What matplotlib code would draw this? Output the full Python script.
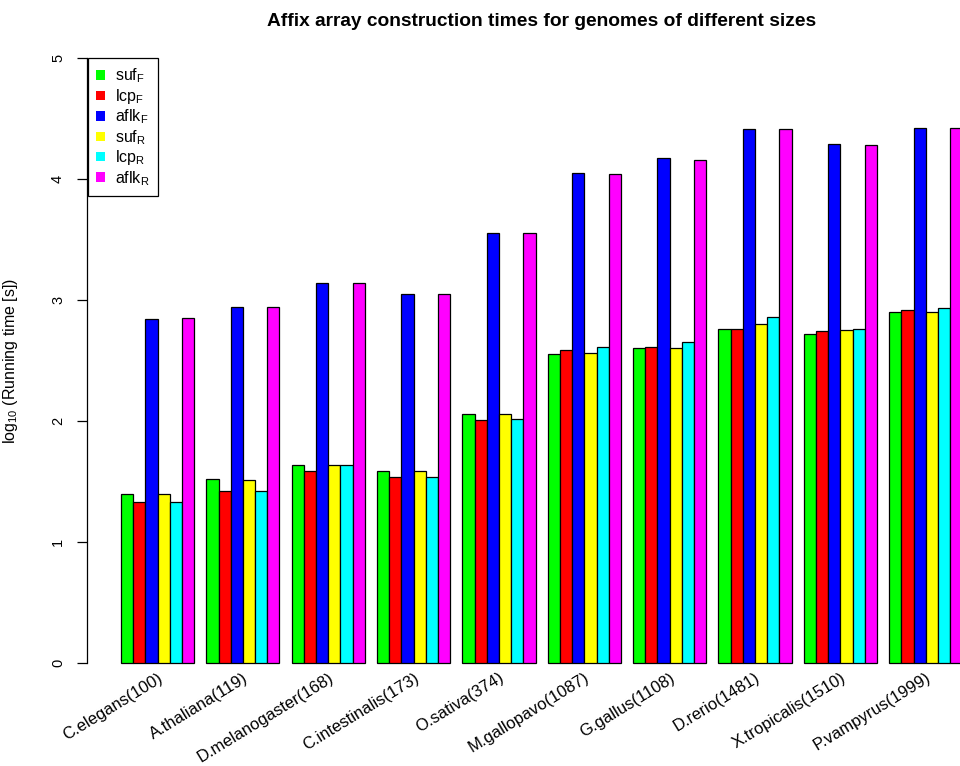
import matplotlib
matplotlib.use("Agg")
import matplotlib.pyplot as plt
from matplotlib.patches import Patch
import numpy as np

plt.rcParams["font.family"] = ["Liberation Sans", "DejaVu Sans"]
plt.rcParams["mathtext.fontset"] = "custom"
plt.rcParams["mathtext.rm"] = "Liberation Sans"
plt.rcParams["mathtext.it"] = "Liberation Sans:italic"

genomes = ["C.elegans(100)", "A.thaliana(119)", "D.melanogaster(168)",
           "C.intestinalis(173)", "O.sativa(374)", "M.gallopavo(1087)",
           "G.gallus(1108)", "D.rerio(1481)", "X.tropicalis(1510)",
           "P.vampyrus(1999)"]

# log10 of running time in seconds
suf_F  = [1.40, 1.52, 1.64, 1.59, 2.06, 2.55, 2.60, 2.76, 2.72, 2.90]
lcp_F  = [1.33, 1.42, 1.59, 1.54, 2.01, 2.59, 2.61, 2.76, 2.74, 2.92]
aflk_F = [2.84, 2.94, 3.14, 3.05, 3.55, 4.05, 4.17, 4.41, 4.29, 4.42]
suf_R  = [1.40, 1.51, 1.64, 1.59, 2.06, 2.56, 2.60, 2.80, 2.75, 2.90]
lcp_R  = [1.33, 1.42, 1.64, 1.54, 2.02, 2.61, 2.65, 2.86, 2.76, 2.93]
aflk_R = [2.85, 2.94, 3.14, 3.05, 3.55, 4.04, 4.16, 4.41, 4.28, 4.42]

series = [suf_F, lcp_F, aflk_F, suf_R, lcp_R, aflk_R]
series_labels = [r"suf$_{\mathregular{F}}$", r"lcp$_{\mathregular{F}}$",
                 r"aflk$_{\mathregular{F}}$", r"suf$_{\mathregular{R}}$",
                 r"lcp$_{\mathregular{R}}$", r"aflk$_{\mathregular{R}}$"]
colors = ["#00FF00", "#FF0000", "#0000FF", "#FFFF00", "#00FFFF", "#FF00FF"]

W, H = 960, 766
fig = plt.figure(figsize=(W / 100, H / 100), dpi=100)

# plot region (extends past the right edge of the canvas)
left, right, bottom, top = 87.3, 996.0, 687.2, 33.8
ax = fig.add_axes([left / W, 1 - bottom / H, (right - left) / W, (bottom - top) / H])

n_groups = len(genomes)
n_series = len(series)
period = n_series + 1
group_left = 1 + period * np.arange(n_groups)

for j, (vals, col) in enumerate(zip(series, colors)):
    ax.bar(group_left + j, vals, width=1.0, align="edge", color=col,
           edgecolor="black", linewidth=0.9)

xmin, xmax = 1, period * n_groups
pad = 0.04 * (xmax - xmin)
ax.set_xlim(xmin - pad, xmax + pad)
ax.set_ylim(-0.2, 5.2)

for s in ["top", "right", "bottom"]:
    ax.spines[s].set_visible(False)
ax.spines["left"].set_bounds(0, 5)
ax.spines["left"].set_linewidth(0.9)
ax.set_yticks(range(0, 6))
ax.set_yticklabels([str(v) for v in range(0, 6)], rotation=90, va="center",
                   fontsize=10.5)
ax.tick_params(axis="y", length=7, width=0.9, pad=9)
ax.set_xticks([])

centers = group_left + n_series / 2
for c, lab in zip(centers, genomes):
    ax.text(c, -0.06, lab, rotation=31.5, ha="right", va="top",
            rotation_mode="anchor", fontsize=12, clip_on=False)

ax.set_ylabel(r"log$_{10}$ (Running time [s])", fontsize=11.5)
ax.yaxis.set_label_coords((20 - left) / (right - left), 0.5)

fig.text(542 / W, 1 - 26 / H, "Affix array construction times for genomes of different sizes",
         ha="center", va="baseline", fontsize=13.8, fontweight="bold")

handles = [Patch(facecolor=c, edgecolor="none") for c in colors]
leg = ax.legend(handles, series_labels, loc="upper left",
                bbox_to_anchor=(87.5 / W, 1 - 58 / H), bbox_transform=fig.transFigure,
                borderaxespad=0, fancybox=False, framealpha=1, edgecolor="black",
                fontsize=11.5, handlelength=0.55, handleheight=0.55, handletextpad=0.6,
                labelspacing=0.1, borderpad=0.55)
leg.get_frame().set_linewidth(0.9)

fig.savefig("out.png", dpi=100)
